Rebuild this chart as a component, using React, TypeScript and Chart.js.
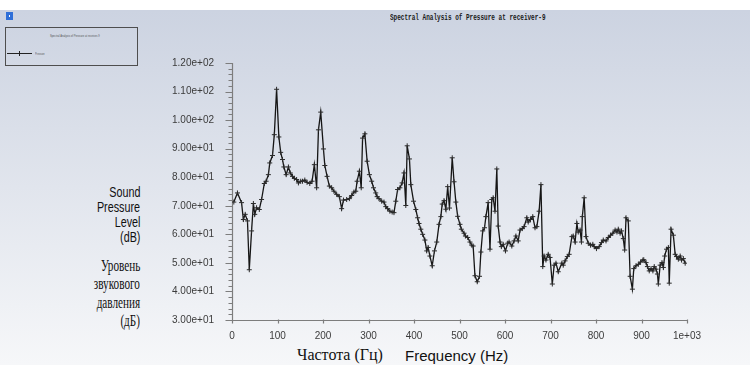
import React, { useEffect, useRef } from "react";
import { Chart, registerables } from "chart.js";

Chart.register(...registerables);

// Frequency (Hz) of each spectral sample
const freqs = [
  4, 12, 21, 25, 29, 34, 38, 43, 47, 50, 54, 60, 65, 71, 75, 80, 83, 89, 93, 98,
  103, 107, 111, 114, 119, 124, 128, 133, 137, 142, 146, 151, 155, 160, 165, 171, 176, 181, 186, 190,
  195, 201, 204, 209, 214, 219, 224, 230, 236, 241, 245, 252,
  258, 263, 268, 272, 275, 280, 284, 287, 292, 297, 302, 307, 311, 316, 319, 323, 329, 334, 338, 342,
  347, 352, 356, 360, 364, 369, 374, 378, 382, 385, 390, 393, 399, 404, 408, 411, 415, 419, 424, 428,
  431, 435, 440, 445, 450, 455,
  459, 462, 466, 470, 474, 478, 484, 488, 492, 496, 501, 504, 510, 513, 518, 523, 527, 530, 534, 539,
  544, 547, 551, 555, 558, 563, 567, 571, 574, 578, 582, 585, 589, 592, 596, 601, 606, 609, 615, 620,
  624, 629, 633, 638, 642, 648, 651, 656, 661, 666, 670, 675, 679, 683, 686, 690, 695, 699, 704, 708,
  712, 717,
  725, 728, 732, 737, 741, 747, 750, 754, 758, 761, 765, 768, 770, 774, 778, 783, 788, 793, 796, 801,
  807, 812, 816, 822, 827, 832, 837, 842, 846, 849, 853, 856, 860, 863, 866, 871, 875, 880, 883, 888,
  893, 898, 903, 905, 910, 913, 917, 921, 925, 928, 932, 935, 937, 941, 945, 948, 951, 955, 959, 961,
  965, 970, 974, 977, 981, 985, 988, 992, 996,
];

// Sound pressure level (dB) at each frequency
const levels = [
  71.3, 74.5, 71.1, 65.2, 67, 64.7, 47.6, 61.2, 70.8, 67, 69.3, 68.7, 72.2, 77.8, 78.6, 80.9, 85, 87.6, 94.9, 110.8,
  94.1, 88.7, 86.2, 83.6, 80.9, 83.6, 81.5, 80.3, 79.6, 79.2, 78, 78.6, 78.6, 79, 78.2, 77.8, 78.6, 84.4, 76.3, 96.6,
  102.8, 89.9, 84.1, 80.3, 76.9, 76.3, 75.1, 74, 73.2, 69, 72, 72.2,
  72.5, 73.6, 74.8, 75.1, 78.6, 82.1, 76.3, 93.7, 95.2, 85.6, 80.9, 78.6, 76.3, 74.5, 73.2, 72.5, 71.6, 71.3, 69.7, 69,
  68.1, 67.8, 67.6, 71.6, 75.7, 76.3, 78, 81.5, 70.1, 91, 86.4, 77.4, 71.6, 68.7, 65.8, 63.8, 61.8, 60, 58, 54.2,
  55.4, 52.4, 49, 54.2, 57.3, 63.5,
  66.2, 70.6, 71.8, 68.8, 76.7, 69.2, 86.8, 78.4, 71.3, 66.3, 63.5, 61.8, 60.4, 59.4, 58.9, 57.3, 56.2, 55.9, 45.5, 43.4,
  45.3, 53.8, 61.2, 62.3, 66.2, 71.1, 54.8, 72.2, 72.8, 68.1, 82.9, 62.9, 57.3, 55.7, 56.5, 54.2, 56.9, 57.3, 55.9, 57.7,
  59.4, 57.7, 61.5, 62, 62.7, 65.8, 64.3, 65.2, 66.2, 62.3, 62.7, 68.1, 77.4, 48.7, 52.4, 51, 53, 51.9, 42.6, 49.2,
  49.9, 46.9,
  49.9, 49.2, 50.7, 52.2, 53, 59.2, 59.4, 57.3, 63.8, 60.8, 61.5, 57.3, 66.2, 72.8, 59.2, 56.9, 56.2, 56.5, 55.7, 55,
  55.7, 57.1, 58, 57.7, 58.9, 59.7, 60.4, 61.5, 60.8, 61.8, 60.4, 61.2, 58.5, 54.5, 65.8, 64.7, 45.3, 40.8, 48, 49,
  49.5, 50.3, 51, 51.1, 50.1, 48.7, 47.2, 48, 47.2, 48.7, 47.8, 46.1, 42.6, 49.2, 50.1, 48.4, 52.4, 54.8, 55.4, 42.9,
  61.8, 59.7, 53, 52.2, 51.3, 52.4, 51, 51.5, 49.9,
];

const xTickValues = [0, 100, 200, 300, 400, 500, 600, 700, 800, 900, 1000];
const xTickLabels = ["0", "100", "200", "300", "400", "500", "600", "700", "800", "900", "1e+03"];
const yTickValues = [30, 40, 50, 60, 70, 80, 90, 100, 110, 120];
const yTickLabels = ["3.00e+01", "4.00e+01", "5.00e+01", "6.00e+01", "7.00e+01", "8.00e+01", "9.00e+01", "1.00e+02", "1.10e+02", "1.20e+02"];

const chartTitle = "Spectral Analysis of Pressure at receiver-9";
const seriesName = "Pressure";
const yTitleEn = ["Sound", "Pressure", "Level", "(dB)"];
const yTitleRu = ["Уровень", "звукового", "давления", "(дБ)"];
const xTitleRu = "Частота (Гц)";
const xTitleEn = "Frequency (Hz)";

const tickFont = { family: "'Liberation Sans', Arial, sans-serif", size: 10 };

const axisDecor = {
  id: "axisDecor",
  beforeDatasetsDraw(chart: any) {
    const { ctx, chartArea, scales } = chart;
    const x = scales.x;
    const y = scales.y;
    ctx.save();
    ctx.strokeStyle = "#7d7d7d";
    ctx.lineWidth = 1.2;
    const left = Math.round(chartArea.left) + 0.5;
    const bottom = Math.round(chartArea.bottom) + 0.5;
    ctx.beginPath();
    ctx.moveTo(left, Math.round(chartArea.top));
    ctx.lineTo(left, bottom);
    ctx.lineTo(Math.round(chartArea.right) + 0.5, bottom);
    for (let v = 30; v <= 120; v += 2) {
      const py = Math.round(y.getPixelForValue(v)) + 0.5;
      const len = v % 10 === 0 ? 7 : 4;
      ctx.moveTo(left - len, py);
      ctx.lineTo(left, py);
    }
    for (const v of xTickValues) {
      const px = Math.round(x.getPixelForValue(v)) + 0.5;
      ctx.moveTo(px, bottom - 1);
      ctx.lineTo(px, bottom + 3);
    }
    ctx.stroke();
    ctx.restore();
  },
};

const abs = (s: React.CSSProperties): React.CSSProperties => ({ position: "absolute", whiteSpace: "nowrap", lineHeight: 1, ...s });

export default function App() {
  const ref = useRef<HTMLCanvasElement>(null);

  useEffect(() => {
    const chart = new Chart(ref.current as HTMLCanvasElement, {
      type: "line",
      data: {
        datasets: [
          {
            label: seriesName,
            data: freqs.map((f, i) => ({ x: f, y: levels[i] })),
            borderColor: "#151515",
            borderWidth: 1.3,
            pointStyle: "cross",
            pointRadius: 2.5,
            pointBorderColor: "#2a2a2a",
            pointBackgroundColor: "#2a2a2a",
            pointBorderWidth: 1,
            tension: 0,
            fill: false,
          },
        ],
      },
      options: {
        responsive: false,
        animation: false,
        devicePixelRatio: 1,
        layout: { padding: { top: 63, right: 63, left: 0, bottom: 0 } },
        plugins: { legend: { display: false }, tooltip: { enabled: false }, title: { display: false } },
        scales: {
          x: {
            type: "linear",
            min: 0,
            max: 1000,
            afterFit: (s: any) => {
              s.height = 45;
            },
            afterBuildTicks: (s: any) => {
              s.ticks = xTickValues.map((v) => ({ value: v }));
            },
            grid: { display: false, drawTicks: false },
            border: { display: false },
            ticks: {
              autoSkip: false,
              maxRotation: 0,
              padding: 10,
              font: tickFont,
              color: "#3c3c3c",
              callback: (v: any) => {
                const i = xTickValues.indexOf(Number(v));
                return i >= 0 ? xTickLabels[i] : "";
              },
            },
          },
          y: {
            type: "linear",
            min: 30,
            max: 120,
            afterFit: (s: any) => {
              s.width = 232;
            },
            afterBuildTicks: (s: any) => {
              s.ticks = yTickValues.map((v) => ({ value: v }));
            },
            grid: { display: false, drawTicks: false },
            border: { display: false },
            ticks: {
              padding: 18,
              font: tickFont,
              color: "#3c3c3c",
              callback: (v: any) => {
                const i = yTickValues.indexOf(Number(v));
                return i >= 0 ? yTickLabels[i] : "";
              },
            },
          },
        },
      },
      plugins: [axisDecor],
    });
    return () => chart.destroy();
  }, []);

  const enTops = [184.5, 199.5, 215, 230];
  const ruTops = [258, 276, 294.5, 313];

  return (
    <div
      style={{
        position: "fixed",
        left: 0,
        top: 0,
        width: 750,
        height: 365,
        overflow: "hidden",
        background: "linear-gradient(to bottom, #ffffff 0px, #ffffff 10px, #ccd3e1 10px, #f6f7f9 365px)",
        fontFamily: "'Liberation Sans', Arial, sans-serif",
      }}
    >
      {/* window icon */}
      <div style={abs({ left: 6, top: 12, width: 7, height: 8, background: "#2f6fd8" })}>
        <div style={abs({ left: 3, top: 3, width: 1, height: 2, background: "#ffffff" })} />
      </div>

      {/* title */}
      <div
        style={abs({
          left: 390,
          top: 13.5,
          fontFamily: "'Liberation Mono', 'DejaVu Sans Mono', monospace",
          fontWeight: "bold",
          fontSize: 9,
          color: "#1a1a1a",
          transform: "scaleX(0.67)",
          transformOrigin: "left center",
        })}
      >
        {chartTitle}
      </div>

      {/* legend box */}
      <div style={abs({ left: 5, top: 27, width: 131, height: 37, border: "1.5px solid #4e4e4e" })}>
        <div
          style={abs({
            left: 0,
            width: 131,
            top: 6,
            textAlign: "center",
            fontSize: 8,
            color: "#555",
            transform: "scale(0.33, 0.5)",
            transformOrigin: "center top",
          })}
        >
          {chartTitle}
        </div>
        <div style={abs({ left: 1, top: 25, width: 25, height: 1.2, background: "#222" })} />
        <div style={abs({ left: 13, top: 23, width: 1, height: 5, background: "#222" })} />
        <div
          style={abs({
            left: 29,
            top: 23.5,
            fontSize: 8,
            color: "#555",
            transform: "scale(0.3, 0.5)",
            transformOrigin: "left top",
          })}
        >
          {seriesName}
        </div>
      </div>

      {/* y axis titles */}
      {yTitleEn.map((t, i) => (
        <div
          key={"en" + i}
          style={abs({
            right: 610,
            top: enTops[i],
            fontSize: 14,
            color: "#111",
            transform: "scaleX(0.77)",
            transformOrigin: "right center",
          })}
        >
          {t}
        </div>
      ))}
      {yTitleRu.map((t, i) => (
        <div
          key={"ru" + i}
          style={abs({
            right: 610,
            top: ruTops[i],
            fontSize: 16,
            fontFamily: "'Liberation Serif', 'Times New Roman', serif",
            color: "#111",
            transform: "scaleX(0.7)",
            transformOrigin: "right center",
          })}
        >
          {t}
        </div>
      ))}

      {/* x axis titles */}
      <div
        style={abs({
          left: 297,
          top: 346.5,
          fontSize: 16,
          fontFamily: "'Liberation Serif', 'Times New Roman', serif",
          color: "#111",
        })}
      >
        {xTitleRu}
      </div>
      <div style={abs({ left: 405, top: 347.5, fontSize: 15, color: "#111" })}>{xTitleEn}</div>

      <canvas
        ref={ref}
        width={750}
        height={365}
        style={{ position: "absolute", left: 0, top: 0, width: 750, height: 365 }}
      />
    </div>
  );
}
